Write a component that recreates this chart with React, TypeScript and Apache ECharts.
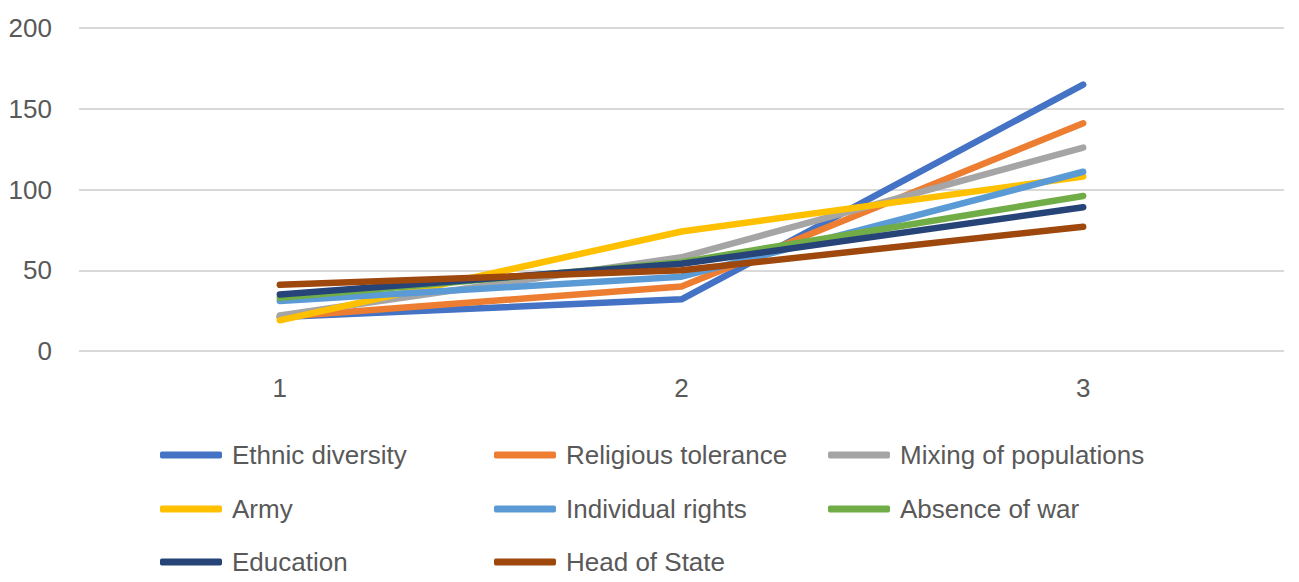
import { useEffect, useRef } from "react"
import * as echarts from "echarts"

const categories = ["1", "2", "3"]
const yTicks = [0, 50, 100, 150, 200]

const seriesNames = [
  "Ethnic diversity",
  "Religious tolerance",
  "Mixing of populations",
  "Army",
  "Individual rights",
  "Absence of war",
  "Education",
  "Head of State",
]

const ethnicDiversity = [21, 32, 165]
const religiousTolerance = [21, 40, 141]
const mixingOfPopulations = [22, 58, 126]
const army = [19, 74, 108]
const individualRights = [31, 46, 111]
const absenceOfWar = [33, 55, 96]
const education = [35, 54, 89]
const headOfState = [41, 50, 77]

const seriesValues = [
  ethnicDiversity,
  religiousTolerance,
  mixingOfPopulations,
  army,
  individualRights,
  absenceOfWar,
  education,
  headOfState,
]

const colors = ["#4472C4", "#ED7D31", "#A5A5A5", "#FFC000", "#5B9BD5", "#70AD47", "#264478", "#9E480E"]

const FONT = "'Liberation Sans', Arial, sans-serif"

export default function App() {
  const chartRef = useRef<HTMLDivElement>(null)

  useEffect(() => {
    document.body.style.margin = "0"
    if (!chartRef.current) return
    const chart = echarts.init(chartRef.current, null, { renderer: "svg" })

    // legend laid out as 3 columns, items filled row by row like the original
    const legendLefts = [155, 489, 823]
    const legendTops = [435, 489, 542]

    const option = {
      animation: false,
      grid: { left: 79, right: 15, top: 28, bottom: 231 },
      xAxis: {
        type: "category",
        data: categories,
        boundaryGap: true,
        axisLine: { show: false },
        axisTick: { show: false },
        axisLabel: { fontSize: 26, color: "#595959", fontFamily: FONT, margin: 24 },
      },
      yAxis: {
        type: "value",
        min: yTicks[0],
        max: yTicks[yTicks.length - 1],
        interval: 50,
        axisLine: { show: false },
        axisTick: { show: false },
        axisLabel: { fontSize: 26, color: "#595959", fontFamily: FONT, margin: 27 },
        splitLine: { lineStyle: { color: "#D9D9D9", width: 2 } },
      },
      legend: seriesNames.map((name, i) => ({
        data: [name],
        left: legendLefts[i % 3],
        top: legendTops[Math.floor(i / 3)],
        icon: "roundRect",
        itemWidth: 62,
        itemHeight: 7,
        textStyle: {
          fontSize: 26,
          color: "#595959",
          fontFamily: FONT,
          lineHeight: 30,
          padding: [0, 0, 0, 5],
        },
      })),
      series: seriesNames.map((name, i) => ({
        name,
        type: "line",
        data: seriesValues[i],
        symbol: "none",
        color: colors[i],
        lineStyle: { width: 6.5, color: colors[i], cap: "round", join: "round" },
      })),
    }

    chart.setOption(option)
    return () => {
      chart.dispose()
    }
  }, [])

  return <div ref={chartRef} style={{ width: 1299, height: 582 }} />
}
